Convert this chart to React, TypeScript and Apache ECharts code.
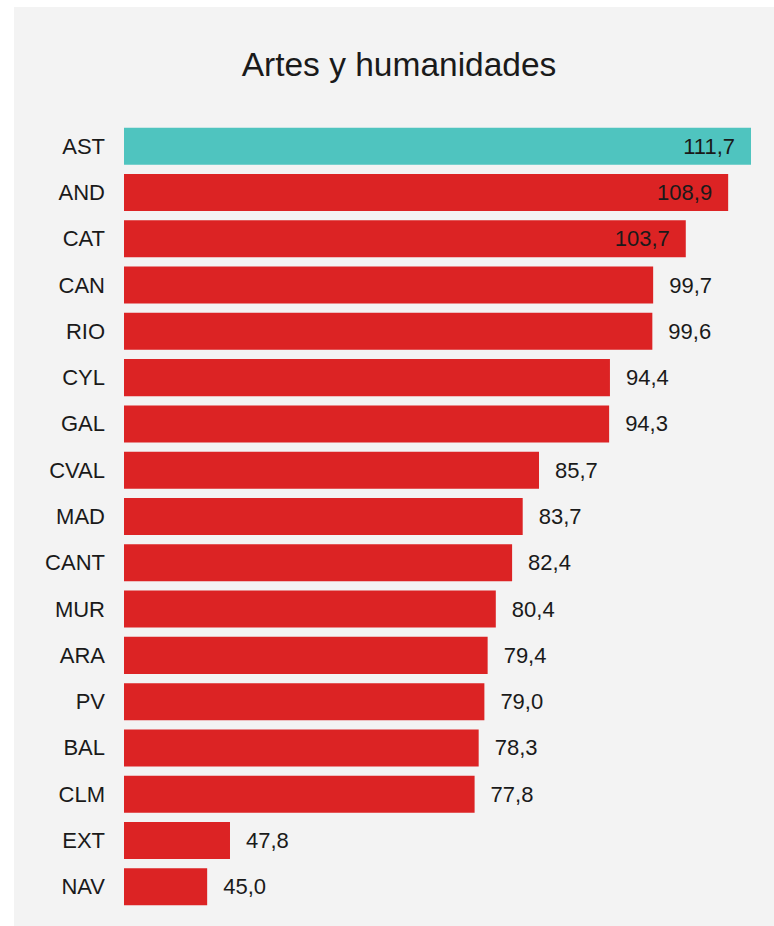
import React, { useEffect, useRef } from "react";
import * as echarts from "echarts";

const categories = ["AST", "AND", "CAT", "CAN", "RIO", "CYL", "GAL", "CVAL", "MAD", "CANT", "MUR", "ARA", "PV", "BAL", "CLM", "EXT", "NAV"];
const values = [111.7, 108.9, 103.7, 99.7, 99.6, 94.4, 94.3, 85.7, 83.7, 82.4, 80.4, 79.4, 79.0, 78.3, 77.8, 47.8, 45.0];
const highlighted = ["AST"];
const insideLabelThreshold = 100;
const titleText = "Artes y humanidades";

const TEAL = "#4FC4BF";
const RED = "#DC2324";
const FONT = "'Liberation Sans', Arial, sans-serif";

export default function App() {
  const ref = useRef<HTMLDivElement>(null);
  useEffect(() => {
    if (!ref.current) return;
    const chart = echarts.init(ref.current, null, { renderer: "svg" });
    chart.setOption({
      animation: false,
      backgroundColor: "#ffffff",
      graphic: [
        {
          type: "rect",
          z: -10,
          silent: true,
          shape: { x: 14, y: 7, width: 780, height: 940 },
          style: { fill: "#F3F3F3" },
        },
      ],
      title: {
        text: titleText,
        left: 394,
        textAlign: "center",
        top: 42,
        textStyle: { fontFamily: FONT, fontSize: 33.5, fontWeight: "normal", color: "#1a1a1a" },
      },
      grid: { left: 124, right: 23, top: 123, bottom: 16, containLabel: false },
      xAxis: {
        type: "value",
        min: 34.8,
        max: 111.7,
        show: false,
      },
      yAxis: {
        type: "category",
        data: categories,
        inverse: true,
        axisLine: { show: false },
        axisTick: { show: false },
        splitLine: { show: false },
        axisLabel: { fontFamily: FONT, fontSize: 22, color: "#1a1a1a", margin: 19 },
      },
      series: [
        {
          type: "bar",
          barCategoryGap: "20%",
          data: values.map((v, i) => {
            const inside = v >= insideLabelThreshold;
            return {
              value: v,
              itemStyle: { color: highlighted.includes(categories[i]) ? TEAL : RED },
              label: {
                show: true,
                position: inside ? "insideRight" : "right",
                distance: 16,
                formatter: (p: any) => Number(p.value).toFixed(1).replace(".", ","),
                fontFamily: FONT,
                fontSize: 22,
                color: "#1a1a1a",
              },
            };
          }),
        },
      ],
    });
    return () => chart.dispose();
  }, []);
  return (
    <div style={{ position: "absolute", left: 0, top: 0, width: 774, height: 926 }}>
      <div ref={ref} style={{ width: 774, height: 926 }} />
    </div>
  );
}
